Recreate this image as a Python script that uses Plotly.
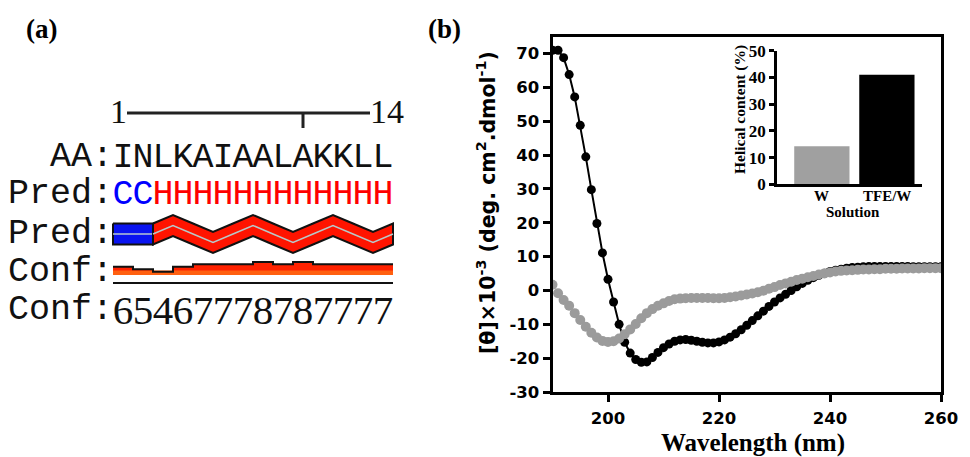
import numpy as np
import plotly.graph_objects as go

W, H = 970, 457

# ---------------- Data ----------------
# Panel (a): PSIPRED-style secondary structure prediction
sequence = "INLKAIAALAKKLL"
prediction = "CCHHHHHHHHHHHH"
confidence = [6, 5, 4, 6, 7, 7, 7, 8, 7, 8, 7, 7, 7, 7]

# Panel (b): CD spectra (mean residue ellipticity x10^-3)
wavelength = list(range(190, 261))
theta_tfe = [71.0, 71.0, 68.8, 63.8, 57.2, 48.8, 39.5, 29.8, 19.8, 11.1,
             3.3, -3.4, -10.0, -15.3, -18.5, -20.4, -21.2, -21.1, -19.8, -18.3,
             -16.9, -15.8, -15.0, -14.6, -14.5, -14.7, -15.0, -15.3, -15.5, -15.5,
             -15.2, -14.6, -13.8, -12.8, -11.6, -10.3, -8.9, -7.5, -6.1, -4.7,
             -3.4, -2.2, -1.1, 0.0, 1.1, 2.1, 3.0, 3.8, 4.5, 5.1,
             5.6, 6.0, 6.3, 6.6, 6.8, 6.9, 7.0, 7.1, 7.1, 7.1,
             7.1, 7.1, 7.1, 7.1, 7.1, 7.0, 7.0, 7.0, 7.0, 7.0, 7.0]
theta_water = [1.7, -0.8, -2.8, -4.5, -6.7, -8.7, -10.7, -12.5, -13.9, -14.9,
               -15.2, -15.0, -14.2, -12.9, -11.5, -9.9, -8.2, -6.7, -5.5, -4.5,
               -3.8, -3.1, -2.6, -2.4, -2.3, -2.2, -2.2, -2.2, -2.2, -2.3,
               -2.3, -2.2, -2.0, -1.8, -1.5, -1.2, -0.9, -0.5, -0.1, 0.5,
               1.0, 1.6, 2.1, 2.6, 3.1, 3.5, 3.9, 4.3, 4.7, 5.0,
               5.3, 5.6, 5.8, 5.9, 6.0, 6.1, 6.2, 6.2, 6.3, 6.3,
               6.4, 6.4, 6.4, 6.5, 6.5, 6.5, 6.5, 6.6, 6.6, 6.6, 6.6]
x_ticks = [200, 220, 240, 260]
y_ticks = list(range(-30, 71, 10))
y_ticklabels = [str(v) for v in y_ticks]

# Inset: helical content
solutions = ["W", "TFE/W"]
helical_content = [14.2, 41.0]
inset_colors = ["#a0a0a0", "#000000"]
inset_ticks = [0, 10, 20, 30, 40, 50]

# ---------------- Helpers ----------------
def px_x(p):
    return p / W

def px_y(p):
    return 1 - p / H

fig = go.Figure()

serif = "Liberation Serif, Times New Roman, serif"
mono = "Liberation Mono, Courier New, monospace"
sans = "DejaVu Sans, Arial, sans-serif"

# ---------------- Panel (a) ----------------
n = len(sequence)
centers = [i + 0.5 for i in range(n)]
ax3 = dict(xaxis="x3", yaxis="y3", cliponaxis=False)

# ruler
y_rul = 113
fig.add_trace(go.Scatter(x=[0.7, n - 1.15], y=[y_rul, y_rul], mode="lines",
                         line=dict(color="#222", width=3), hoverinfo="skip", **ax3))
fig.add_trace(go.Scatter(x=[9.5, 9.5], y=[y_rul, y_rul + 15], mode="lines",
                         line=dict(color="#222", width=3), hoverinfo="skip", **ax3))
fig.add_trace(go.Scatter(x=[0.7], y=[y_rul + 1], mode="text", text=["1"],
                         textposition="middle left",
                         textfont=dict(family=serif, size=34, color="#111"),
                         hoverinfo="skip", **ax3))
fig.add_trace(go.Scatter(x=[n - 1.15], y=[y_rul + 1], mode="text", text=[str(n)],
                         textposition="middle right",
                         textfont=dict(family=serif, size=34, color="#111"),
                         hoverinfo="skip", **ax3))

# sequence row
fig.add_trace(go.Scatter(x=centers, y=[158] * n, mode="text", text=list(sequence),
                         textfont=dict(family=mono, size=35, color="#111"),
                         hoverinfo="skip", **ax3))
# prediction letters row
pred_colors = ["#0000ff" if c == "C" else "#ff0000" for c in prediction]
fig.add_trace(go.Scatter(x=centers, y=[195] * n, mode="text", text=list(prediction),
                         textfont=dict(family=mono, size=35, color=pred_colors),
                         hoverinfo="skip", **ax3))

# prediction cartoon row
y_mid, half, amp = 234, 10.5, 8.5
runs = []
start = 0
for i in range(1, n + 1):
    if i == n or prediction[i] != prediction[start]:
        runs.append((prediction[start], start, i))
        start = i
for kind, a, b in runs:
    if kind == "C":
        xs = [a, b, b, a, a]
        ys = [y_mid - half, y_mid - half, y_mid + half, y_mid + half, y_mid - half]
        fig.add_trace(go.Scatter(x=xs, y=ys, mode="lines", fill="toself",
                                 fillcolor="#0a14f0", line=dict(color="#111", width=2),
                                 hoverinfo="skip", **ax3))
        fig.add_trace(go.Scatter(x=[a, b], y=[y_mid, y_mid], mode="lines",
                                 line=dict(color="#b8c8d0", width=1.5),
                                 hoverinfo="skip", **ax3))
    else:
        rr = np.arange(a, b + 1)
        yc = y_mid - amp * np.round(np.sin(np.pi / 2 * (rr - a)))
        xs = list(rr) + list(rr[::-1]) + [rr[0]]
        ys = list(yc - half) + list((yc + half)[::-1]) + [yc[0] - half]
        fig.add_trace(go.Scatter(x=xs, y=ys, mode="lines", fill="toself",
                                 fillcolor="#ff1400", line=dict(color="#111", width=2),
                                 hoverinfo="skip", **ax3))
        fig.add_trace(go.Scatter(x=rr, y=yc, mode="lines",
                                 line=dict(color="#b8c8c8", width=1.5),
                                 hoverinfo="skip", **ax3))

# confidence bars
base = 275
heights = [2.45 * c - 6.5 for c in confidence]
fig.add_trace(go.Bar(x=centers, y=[-h for h in heights], base=[base] * n, width=1,
                     marker=dict(color="#ff2200", line=dict(width=0)),
                     hoverinfo="skip", xaxis="x3", yaxis="y3"))
fig.add_trace(go.Bar(x=centers, y=[-4.5] * n, base=[base] * n, width=1,
                     marker=dict(color="#ff6010", line=dict(width=0)),
                     hoverinfo="skip", xaxis="x3", yaxis="y3"))
edge_x = list(range(n + 1))
edge_y = [base - h for h in heights] + [base - heights[-1]]
fig.add_trace(go.Scatter(x=edge_x, y=edge_y, mode="lines", line_shape="hv",
                         line=dict(color="#111", width=2), hoverinfo="skip", **ax3))
fig.add_trace(go.Scatter(x=[0, n], y=[283, 283], mode="lines",
                         line=dict(color="#111", width=2), hoverinfo="skip", **ax3))

# confidence digits
fig.add_trace(go.Scatter(x=centers, y=[314] * n, mode="text",
                         text=[str(c) for c in confidence],
                         textfont=dict(family=serif, size=41, color="#111"),
                         hoverinfo="skip", **ax3))

# row labels
for label, yy in [("AA:", 157), ("Pred:", 194), ("Pred:", 234), ("Conf:", 272), ("Conf:", 310)]:
    fig.add_annotation(x=0.1, y=yy, xref="x3", yref="y3", text=label, showarrow=False,
                       xanchor="right", yanchor="middle",
                       font=dict(family=mono, size=35, color="#111"))

# ---------------- Panel (b) main ----------------
fig.add_trace(go.Scatter(x=wavelength, y=theta_tfe, mode="lines+markers",
                         line=dict(color="black", width=2),
                         marker=dict(color="black", size=9),
                         name="TFE/W", xaxis="x", yaxis="y"))
fig.add_trace(go.Scatter(x=wavelength, y=theta_water, mode="markers",
                         marker=dict(color="#9b9b9b", size=10),
                         name="W", xaxis="x", yaxis="y"))

# inset bars
fig.add_trace(go.Bar(x=solutions, y=helical_content, width=0.85,
                     marker=dict(color=inset_colors, line=dict(width=0)),
                     xaxis="x2", yaxis="y2"))

tickfont_main = dict(family=sans, size=16.5, color="black", weight="bold")
tickfont_inset = dict(family=serif, size=17, color="black", weight="bold")

fig.update_layout(
    width=W, height=H, autosize=False,
    margin=dict(l=0, r=0, t=0, b=0, pad=0),
    paper_bgcolor="white", plot_bgcolor="rgba(0,0,0,0)",
    showlegend=False, barmode="overlay",
    xaxis=dict(domain=[px_x(552.5), px_x(941)], range=[190, 260],
               tickvals=x_ticks, ticks="outside", ticklen=7, tickwidth=2.5,
               tickcolor="black", showline=True, linewidth=3, linecolor="black",
               mirror=True, showgrid=False, zeroline=False, automargin=False,
               tickfont=tickfont_main, ticklabelstandoff=2, anchor="y"),
    yaxis=dict(domain=[px_y(392), px_y(36.7)], range=[-30, 75],
               tickvals=y_ticks, ticktext=y_ticklabels, ticks="outside", ticklen=7,
               tickwidth=2.5, tickcolor="black", showline=True, linewidth=3,
               linecolor="black", mirror=True, showgrid=False, zeroline=False,
               automargin=False, tickfont=tickfont_main, anchor="x"),
    xaxis2=dict(domain=[px_x(777), px_x(922)], range=[-0.69, 1.54],
                showline=True, linewidth=2.5, linecolor="black", ticks="",
                showgrid=False, zeroline=False, showticklabels=False,
                automargin=False, anchor="y2"),
    yaxis2=dict(domain=[px_y(184.3), px_y(50.7)], range=[0, 50],
                tickvals=inset_ticks, ticks="outside", ticklen=5,
                tickwidth=2.5, tickcolor="black", showline=True, linewidth=2.5,
                linecolor="black", showgrid=False, zeroline=False,
                automargin=False, tickfont=tickfont_inset, anchor="x2"),
    xaxis3=dict(domain=[0, px_x(420)], range=[-5.65, 15.35], visible=False,
                automargin=False, anchor="y3", fixedrange=True),
    yaxis3=dict(domain=[0, 1], range=[H, 0], visible=False, anchor="x3",
                automargin=False, fixedrange=True),
)

def note(x, y, text, font, angle=0, xref="paper", yref="paper"):
    fig.add_annotation(x=x, y=y, xref=xref, yref=yref, text=text, showarrow=False,
                       xanchor="center", yanchor="middle", textangle=angle, font=font)

# inset category labels and titles
for cat in solutions:
    note(cat, px_y(196), f"<b>{cat}</b>", dict(family=serif, size=15, color="black"),
         xref="x2")
note(px_x(853), px_y(211.5), "<b>Solution</b>", dict(family=serif, size=15, color="black"))
note(px_x(740), px_y(110), "<b>Helical content (%)</b>",
     dict(family=serif, size=15.5, color="black"), angle=-90)

# main axis titles
note(px_x(753), px_y(443), "<b>Wavelength (nm)</b>",
     dict(family=serif, size=25, color="black"))
note(px_x(487), px_y(203),
     "<b>[θ]×10<sup>-3</sup> (deg. cm<sup>2</sup>.dmol<sup>-1</sup>)</b>",
     dict(family=sans, size=20.5, color="black"), angle=-90)

# panel labels
note(px_x(41), px_y(29), "<b>(a)</b>", dict(family=serif, size=27, color="black"))
note(px_x(444), px_y(29), "<b>(b)</b>", dict(family=serif, size=27, color="black"))

fig.write_html("out.html")
